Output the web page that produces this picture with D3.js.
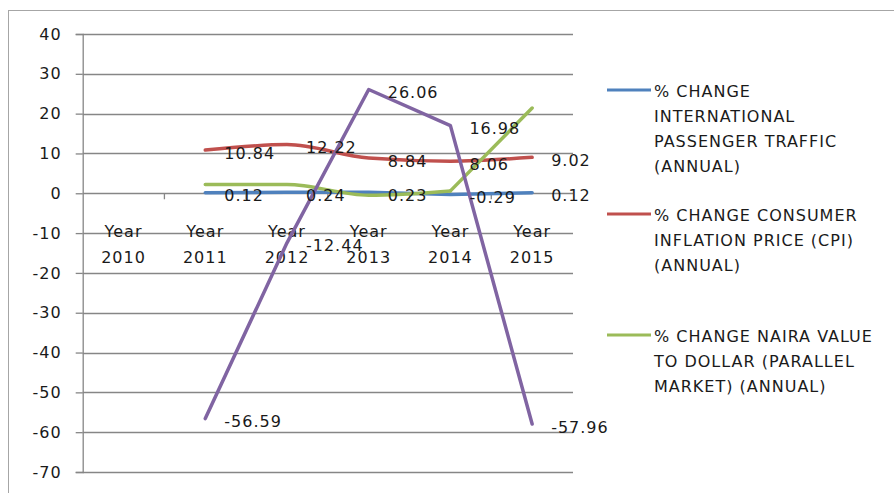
<!DOCTYPE html>
<html>
<head>
<meta charset="utf-8">
<script src="https://cdn.jsdelivr.net/npm/d3@7"></script>
<style>
  html, body { margin: 0; padding: 0; background: #fff; }
  svg text { font-family: "DejaVu Sans", Verdana, sans-serif; font-size: 16px; letter-spacing: 1px; fill: #1a1a1a; }
</style>
</head>
<body>
<svg id="chart" width="894" height="493"></svg>
<script>
const categories = ["2010", "2011", "2012", "2013", "2014", "2015"];
const yTicks = [40, 30, 20, 10, 0, -10, -20, -30, -40, -50, -60, -70];

const passengerTraffic = [null, 0.12, 0.24, 0.23, -0.29, 0.12];
const consumerInflation = [null, 10.84, 12.22, 8.84, 8.06, 9.02];
const nairaValue = [null, 2.2, 2.2, -0.5, 0.6, 21.4];
const fourthSeries = [null, -56.59, -12.44, 26.06, 16.98, -57.96];

const seriesNames = [
  ["% CHANGE", "INTERNATIONAL", "PASSENGER TRAFFIC", "(ANNUAL)"],
  ["% CHANGE CONSUMER", "INFLATION PRICE (CPI)", "(ANNUAL)"],
  ["% CHANGE NAIRA VALUE", "TO DOLLAR (PARALLEL", "MARKET) (ANNUAL)"]
];

(function () {
const svg = d3.select("#chart");
const pLeft = 82.7, pRight = 573, pTop = 34, pBottom = 472;

// outer border
svg.append("rect").attr("x", 8.5).attr("y", 10.5).attr("width", 900).attr("height", 500)
  .attr("fill", "none").attr("stroke", "#a6a6a6").attr("stroke-width", 1);

const x = d3.scaleBand().domain(categories).range([pLeft, pRight]).padding(0);
const cx = c => x(c) + x.bandwidth() / 2;
const y = d3.scaleLinear().domain([-70, 40]).range([pBottom, pTop]);

// gridlines
svg.append("g").selectAll("line").data(yTicks).join("line")
  .attr("x1", pLeft).attr("x2", pRight)
  .attr("y1", d => Math.round(y(d)) + 0.5).attr("y2", d => Math.round(y(d)) + 0.5)
  .attr("stroke", "#868686").attr("stroke-width", 1.3);

// y axis
const yAxis = d3.axisLeft(y).tickValues(yTicks).tickSize(7).tickPadding(14).tickFormat(d => String(d));
const gy = svg.append("g").attr("transform", `translate(${pLeft},0)`).call(yAxis);
gy.select(".domain").attr("stroke", "#868686").attr("stroke-width", 1.3);
gy.selectAll(".tick line").attr("stroke", "#868686").attr("stroke-width", 1.3);
gy.selectAll(".tick text").attr("font-size", null).attr("font-family", null).attr("fill", "#1a1a1a");

// x axis tick marks at category boundaries on zero line
const y0 = y(0);
svg.append("g").selectAll("line").data(categories.slice(1)).join("line")
  .attr("x1", d => x(d)).attr("x2", d => x(d))
  .attr("y1", y0).attr("y2", y0 + 6)
  .attr("stroke", "#868686").attr("stroke-width", 1.3);

// x labels
const xl = svg.append("g");
categories.forEach(c => {
  xl.append("text").attr("x", cx(c)).attr("y", y0 + 44).attr("text-anchor", "middle").text("Year");
  xl.append("text").attr("x", cx(c)).attr("y", y0 + 70).attr("text-anchor", "middle").text(c);
});

// series; "smoothTo" = index up to which the line is smoothed, straight afterwards
const series = [
  { values: passengerTraffic, color: "#4F81BD", smoothTo: 0, labels: true },
  { values: consumerInflation, color: "#C0504D", smoothTo: 5, labels: true },
  { values: nairaValue, color: "#9BBB59", smoothTo: 4, labels: false },
  { values: fourthSeries, color: "#8064A2", smoothTo: 0, labels: true }
];

series.forEach(s => {
  const pts = categories.map((c, i) => [c, s.values[i], i]).filter(p => p[1] !== null);
  const smooth = pts.filter(p => p[2] <= s.smoothTo);
  const straight = pts.filter(p => p[2] >= Math.max(s.smoothTo, pts[0][2]));
  const g = svg.append("g");
  if (smooth.length > 1) {
    g.append("path").datum(smooth)
      .attr("d", d3.line().x(p => cx(p[0])).y(p => y(p[1])).curve(d3.curveMonotoneX));
  }
  if (straight.length > 1) {
    g.append("path").datum(straight)
      .attr("d", d3.line().x(p => cx(p[0])).y(p => y(p[1])).curve(d3.curveLinear));
  }
  g.selectAll("path").attr("fill", "none").attr("stroke", s.color).attr("stroke-width", 3.5)
    .attr("stroke-linejoin", "round").attr("stroke-linecap", "round");
});

series.forEach(s => {
  if (!s.labels) return;
  const pts = categories.map((c, i) => [c, s.values[i]]).filter(p => p[1] !== null);
  svg.append("g").selectAll("text").data(pts).join("text")
    .attr("x", p => cx(p[0]) + 19)
    .attr("y", p => y(p[1]) + 3)
    .attr("dy", "0.35em")
    .text(p => p[1].toFixed(2));
});

// legend
const legendStarts = [97, 221, 342];
series.slice(0, 3).forEach((s, i) => {
  const base = legendStarts[i];
  svg.append("line").attr("x1", 607).attr("x2", 651)
    .attr("y1", base - 7).attr("y2", base - 7)
    .attr("stroke", s.color).attr("stroke-width", 3);
  seriesNames[i].forEach((t, j) => {
    svg.append("text").attr("x", 654).attr("y", base + j * 25).text(t);
  });
});
})();
</script>
</body>
</html>
